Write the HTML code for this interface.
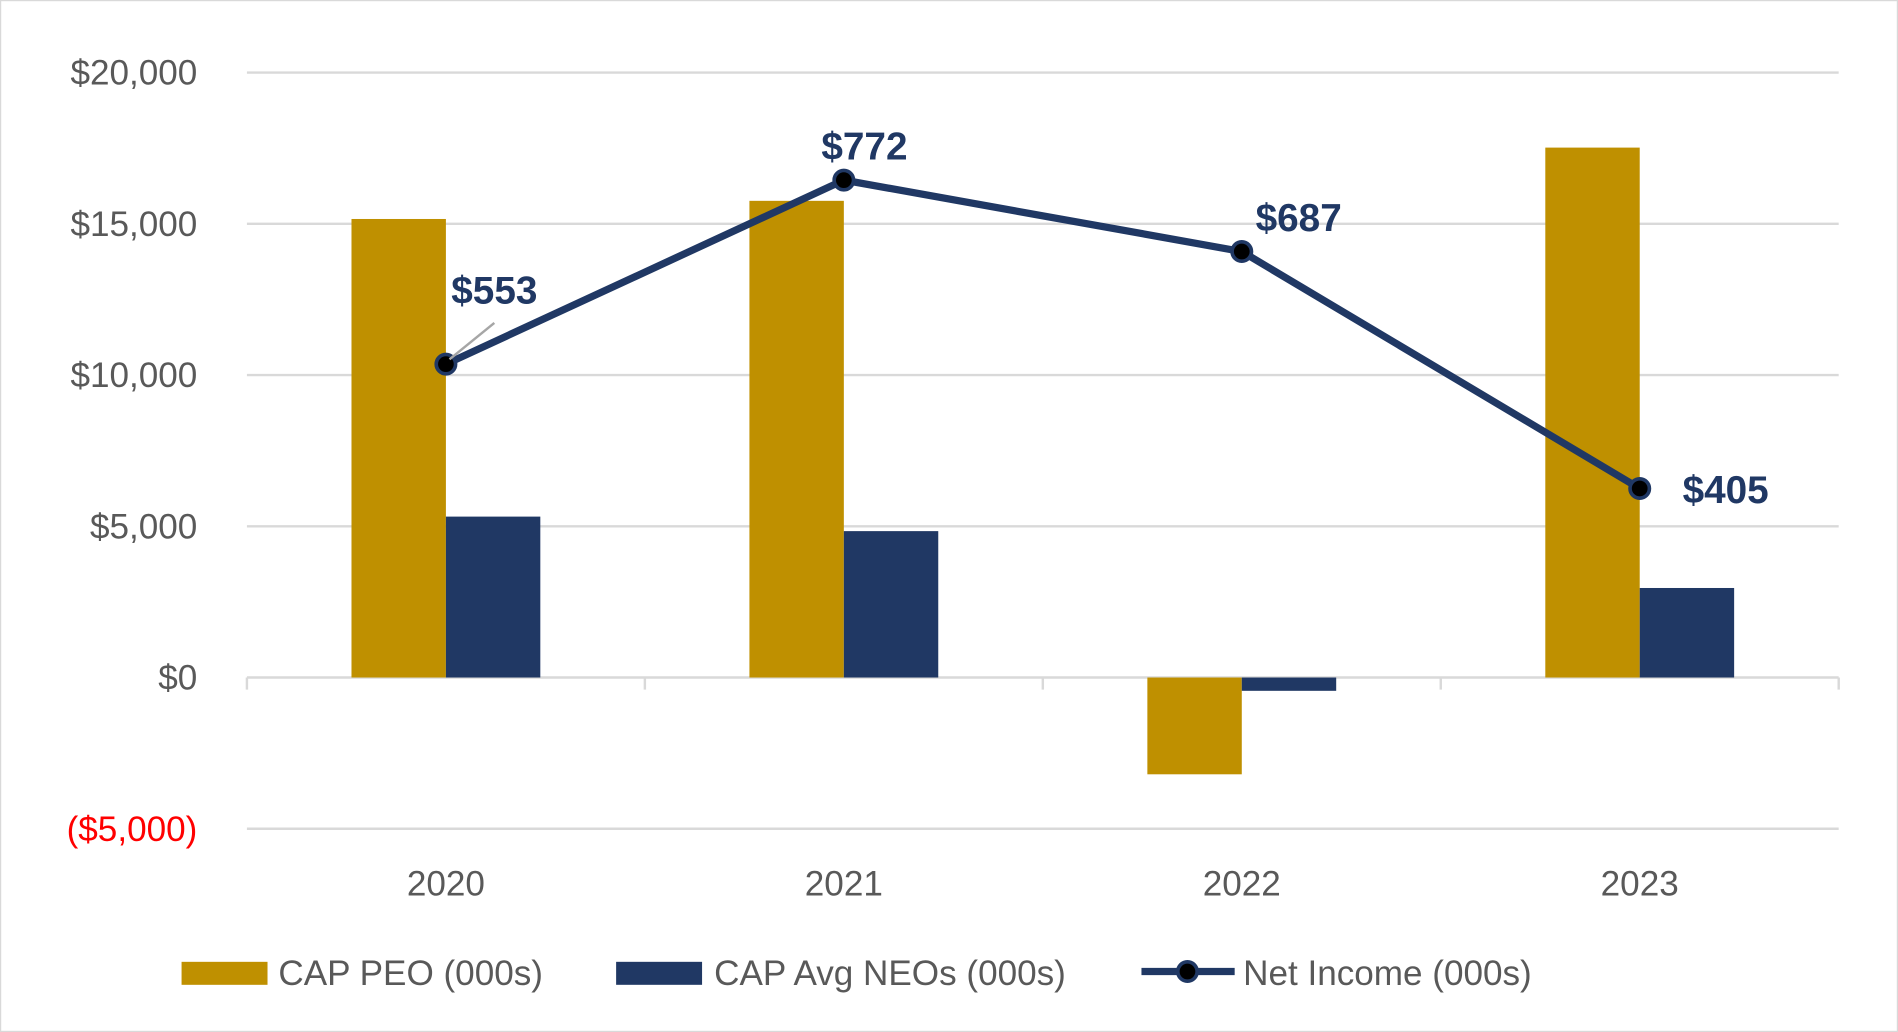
<!DOCTYPE html>
<html><head><meta charset="utf-8"><style>
html,body{margin:0;padding:0;background:#fff;}
svg{display:block;font-family:"Liberation Sans",sans-serif;}
</style></head><body>
<svg id="chart" width="1898" height="1032" viewBox="0 0 1568 853" preserveAspectRatio="none" xmlns="http://www.w3.org/2000/svg">
<rect x="0.5" y="0.5" width="1567" height="852" fill="#fff" stroke="#d9d9d9"/>
<g id="grid"></g><g id="bars"></g><g id="line"></g><g id="labels"></g>
<g font-size="29" fill="#595959">
<rect x="150" y="795" width="71" height="19" fill="#bf9000"/>
<text x="230" y="814">CAP PEO (000s)</text>
<rect x="509" y="795" width="71" height="19" fill="#203864"/>
<text x="590" y="814">CAP Avg NEOs (000s)</text>
<line x1="943" y1="803" x2="1020" y2="803" stroke="#203864" stroke-width="6"/>
<circle cx="981" cy="803" r="8" fill="#000" stroke="#203864" stroke-width="3"/>
<text x="1027" y="814">Net Income (000s)</text>
</g>
</svg>
<script>
const categories = ["2020","2021","2022","2023"];
const capPEO = [15160, 15760, -3200, 17520];
const capNEO = [5320, 4840, -440, 2960];
const netIncome = [553, 772, 687, 405];
const netLabels = ["$553","$772","$687","$405"];
const yTicks = [20000, 15000, 10000, 5000, 0, -5000];
const yTickLabels = ["$20,000","$15,000","$10,000","$5,000","$0","($5,000)"];

const NS="http://www.w3.org/2000/svg";
const X0=204, X1=1519, Y0=560, PX=0.025;
const band=(X1-X0)/categories.length;
const y=v=>Y0-v*PX;
const y2=v=>y(-5000+v*25000/900);
const xc=i=>X0+band*(i+0.5);
function mk(tag,attrs,parent,text){const e=document.createElementNS(NS,tag);for(const k in attrs)e.setAttribute(k,attrs[k]);if(text!=null)e.textContent=text;parent.appendChild(e);return e;}
const grid=document.getElementById('grid'),bars=document.getElementById('bars'),line=document.getElementById('line'),labels=document.getElementById('labels');
yTicks.forEach((t,i)=>{
  if(t!==0){const g=mk('line',{x1:X0,x2:X1,y1:y(t),y2:y(t),stroke:'#d9d9d9','stroke-width':2},grid);
  
  }
  const tx=mk('text',{x:163,y:y(t)+10,'text-anchor':'end','font-size':29,fill:t<0?'#ff0000':'#595959'},grid,yTickLabels[i]);
  
  
});
const ax=mk('line',{x1:X0,x2:X1,y1:Y0,y2:Y0,stroke:'#d9d9d9','stroke-width':2},grid);


for(let i=0;i<=categories.length;i++){const tk=mk('line',{x1:X0+band*i,x2:X0+band*i,y1:Y0,y2:Y0+10,stroke:'#d9d9d9','stroke-width':2},grid);

}
const bw=78;
categories.forEach((c,i)=>{
  const cx=xc(i);
  const a=capPEO[i], b=capNEO[i];
  const r1=mk('rect',{x:cx-bw,y:Math.min(y(a),Y0),width:bw,height:Math.abs(y(a)-Y0),fill:'#bf9000'},bars);
  
  
  const r2=mk('rect',{x:cx,y:Math.min(y(b),Y0),width:bw,height:Math.abs(y(b)-Y0),fill:'#203864'},bars);
  
  
  const xl=mk('text',{x:cx,y:740,'text-anchor':'middle','font-size':29,fill:'#595959'},labels,c);
  
  
});
const pts=netIncome.map((v,i)=>[xc(i),y2(v)]);
const pl=mk('polyline',{points:pts.map(p=>p.join(',')).join(' '),fill:'none',stroke:'#203864','stroke-width':6,'stroke-linejoin':'round'},line);


const offs=[[40,-50],[17,-17],[47,-17],[71,12]];
pts.forEach((p,i)=>{
  const c=mk('circle',{cx:p[0],cy:p[1],r:8,fill:'#000',stroke:'#203864','stroke-width':3},line);
  
  
  if(i===0){const ld=mk('line',{x1:p[0]+3,y1:p[1]-4,x2:p[0]+40,y2:p[1]-34,stroke:'#a6a6a6','stroke-width':2},labels);
  
  }
  const t=mk('text',{x:p[0]+offs[i][0],y:p[1]+offs[i][1],'text-anchor':'middle','font-size':32,'font-weight':'bold',fill:'#203864'},labels,netLabels[i]);
  
  
});
</script>
</body></html>
